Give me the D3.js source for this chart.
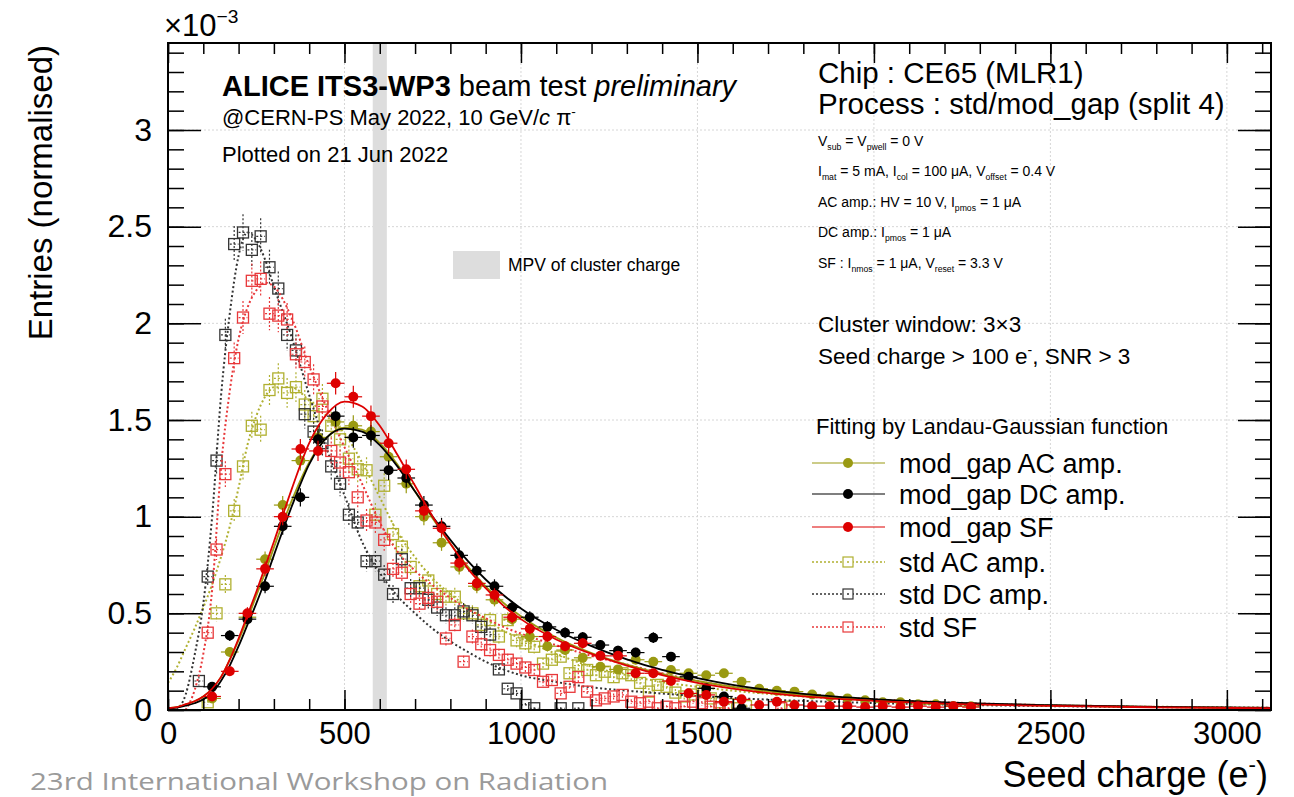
<!DOCTYPE html>
<html>
<head>
<meta charset="utf-8">
<script src="https://cdn.jsdelivr.net/npm/d3@7"></script>
<style>
  body { margin: 0; background: #fff; }
  svg { font-family: 'Liberation Sans', Arial, sans-serif; }
  text { white-space: pre; }
</style>
</head>
<body>
<svg id="chart" width="1294" height="797"></svg>
<script>
// mod_gap: 50 e- bins
const modX = [125, 175, 225, 275, 325, 375, 425, 475, 525, 575, 625, 675, 725, 775, 825, 875, 925, 975, 1025, 1075,
  1125, 1175, 1225, 1275, 1325, 1375, 1425, 1475, 1525, 1575, 1625, 1675, 1725, 1775, 1825, 1875, 1925, 1975, 2025, 2075,
  2125, 2175, 2225, 2275];
const modAC = [0.06, 0.30, 0.48, 0.78, 1.06, 1.29, 1.41, 1.49, 1.47, 1.44, 1.31, 1.17, 1.00, 0.865, 0.74, 0.64, 0.57, 0.47, 0.38, 0.33,
  0.31, 0.27, 0.224, 0.21, 0.26, 0.25, 0.207, 0.19, 0.18, 0.19, 0.146, 0.11, 0.10, 0.095, 0.08, 0.07, 0.06, 0.05, 0.04, 0.04,
  0.03, 0.03, 0.02, 0.02];
const modDC = [0.12, 0.385, 0.47, 0.64, 0.95, 1.10, 1.40, 1.52, 1.41, 1.42, 1.24, 1.20, 1.06, 0.95, 0.80, 0.72, 0.64, 0.53, 0.48, 0.43,
  0.40, 0.376, 0.336, 0.307, 0.297, 0.374, 0.276, 0.172, 0.112, 0.07, 0.009, null, null, null, null, null, null, null, null, null,
  null, null, null, null];
const modSF = [0.07, 0.20, 0.50, 0.73, 1.00, 1.35, 1.34, 1.69, 1.62, 1.52, 1.38, 1.245, 1.03, 0.94, 0.76, 0.655, 0.595, 0.48, 0.42, 0.38,
  0.33, 0.345, 0.28, 0.28, 0.19, 0.19, 0.15, 0.086, 0.078, 0.043, 0.055, 0.026, 0.043, 0.026, 0.02, 0.02, 0.02, 0.015, 0.02, 0.015,
  0.02, 0.015, 0.02, 0.015];

// std: 25 e- bins
const stdX = [87.5, 112.5, 137.5, 162.5, 187.5, 212.5, 237.5, 262.5, 287.5, 312.5, 337.5, 362.5, 387.5, 412.5, 437.5, 462.5, 487.5,
  512.5, 537.5, 562.5, 587.5, 612.5, 637.5, 662.5, 687.5, 712.5, 737.5, 762.5, 787.5, 812.5, 837.5, 862.5, 887.5, 912.5, 937.5,
  962.5, 987.5, 1012.5, 1037.5, 1062.5, 1087.5, 1112.5, 1137.5, 1162.5, 1187.5, 1212.5, 1237.5, 1262.5, 1287.5, 1312.5, 1337.5,
  1362.5, 1387.5, 1412.5, 1437.5, 1462.5, 1487.5, 1512.5, 1537.5, 1562.5, 1587.5, 1612.5, 1637.5, 1662.5, 1687.5, 1712.5, 1737.5, 1762.5];
const stdAC = [null, 0.04, 0.50, 0.65, 1.03, 1.26, 1.47, 1.45, 1.655, 1.715, 1.64, 1.67, 1.58, 1.52, 1.61, 1.47, 1.40, 1.30, 1.245, 1.24,
  1.01, 1.16, 0.91, 0.845, 0.74, 0.64, 0.67, 0.60, 0.586, 0.586, 0.50, 0.50, 0.44, 0.465, 0.38, 0.465, 0.36, 0.345, 0.327, 0.24,
  0.26, 0.276, 0.19, 0.23, 0.207, 0.18, 0.198, 0.17, 0.19, 0.18, 0.14, 0.095, 0.13, 0.12, 0.09, 0.07, 0.08, 0.10, 0.06, 0.04,
  0.03, 0.009, 0.02, null, null, null, null, 0.017];
const stdDC = [0.15, 0.69, 1.29, 1.94, 2.41, 2.47, 2.38, 2.45, 2.29, 2.18, 1.94, 1.86, 1.53, 1.44, 1.38, 1.26, 1.17, 1.01, 0.97, 0.77,
  0.77, 0.70, 0.60, 0.78, 0.63, 0.63, 0.57, 0.53, 0.49, 0.49, 0.51, 0.49, 0.43, 0.39, 0.21, 0.11, 0.086, 0.026, 0.009, null,
  null, 0.009, null, 0.009, null, null, null, null, null, null, null, null, null, null, null, null, null, null, null, null,
  null, null, null, null, null, null, null, null];
const stdSF = [null, 0.40, 0.83, 1.22, 1.82, 2.03, 2.22, 2.23, 2.05, 2.04, 2.02, 1.84, 1.80, 1.71, 1.57, 1.34, 1.28, 1.23, 1.10, 0.98,
  0.97, 0.88, 0.73, 0.71, 0.60, 0.55, 0.58, 0.56, 0.37, 0.44, 0.25, 0.38, 0.34, 0.31, 0.285, 0.26, 0.24, 0.22, 0.207, 0.146,
  0.155, 0.086, 0.12, 0.17, 0.095, 0.05, 0.06, 0.07, 0.078, 0.043, 0.035, 0.043, 0.009, 0.017, 0.009, 0.017, 0.043, 0.035, 0.017, 0.009,
  0.009, null, null, null, null, null, 0.009, null];

// Landau-Gaussian fit curves
const fitX = [0, 25, 50, 75, 100, 125, 150, 175, 200, 225, 250, 275, 300, 350, 400, 450, 500, 550, 600, 650,
  700, 750, 800, 850, 900, 950, 1000, 1100, 1200, 1300, 1400, 1500, 1600, 1800, 2000, 2200, 2500, 2800, 3125];
const fitModAC = [0.01, 0.015, 0.028, 0.045, 0.07, 0.11, 0.17, 0.26, 0.36, 0.47, 0.59, 0.71, 0.84, 1.08, 1.28, 1.41, 1.46, 1.45, 1.38, 1.27,
  1.13, 0.99, 0.86, 0.74, 0.64, 0.555, 0.485, 0.375, 0.295, 0.235, 0.187, 0.15, 0.12, 0.078, 0.052, 0.036, 0.023, 0.015, 0.01];
const fitModDC = [0.008, 0.012, 0.022, 0.035, 0.055, 0.09, 0.15, 0.23, 0.33, 0.44, 0.55, 0.67, 0.80, 1.05, 1.27, 1.41, 1.455, 1.44, 1.37, 1.26,
  1.13, 1.0, 0.88, 0.77, 0.675, 0.595, 0.525, 0.415, 0.33, 0.262, 0.207, 0.165, 0.13, 0.083, 0.056, 0.039, 0.025, 0.016, 0.011];
const fitModSF = [0.01, 0.015, 0.03, 0.045, 0.07, 0.11, 0.17, 0.26, 0.37, 0.49, 0.61, 0.74, 0.87, 1.14, 1.38, 1.53, 1.595, 1.57, 1.47, 1.32,
  1.16, 1.0, 0.86, 0.73, 0.63, 0.54, 0.47, 0.365, 0.29, 0.23, 0.18, 0.14, 0.11, 0.07, 0.047, 0.033, 0.021, 0.014, 0.009];
const fitStdAC = [0.14, 0.22, 0.32, 0.42, 0.53, 0.65, 0.79, 0.95, 1.15, 1.37, 1.52, 1.62, 1.67, 1.67, 1.60, 1.52, 1.43, 1.28, 1.10, 0.92,
  0.79, 0.68, 0.60, 0.53, 0.47, 0.41, 0.37, 0.29, 0.225, 0.18, 0.145, 0.12, 0.10, 0.07, 0.05, 0.037, 0.025, 0.017, 0.012];
const fitStdDC = [null, 0.0, 0.08, 0.28, 0.55, 1.0, 1.62, 2.05, 2.35, 2.47, 2.43, 2.33, 2.19, 1.93, 1.63, 1.35, 1.11, 0.87, 0.71, 0.59,
  0.50, 0.42, 0.355, 0.30, 0.25, 0.21, 0.18, 0.145, 0.117, 0.10, 0.085, 0.072, 0.062, 0.047, 0.036, 0.028, 0.02, 0.015, 0.011];
const fitStdSF = [null, null, 0.0, 0.1, 0.29, 0.62, 1.25, 1.65, 1.92, 2.08, 2.17, 2.21, 2.19, 2.03, 1.78, 1.56, 1.36, 1.17, 0.97, 0.82,
  0.72, 0.645, 0.58, 0.52, 0.475, 0.43, 0.395, 0.335, 0.28, 0.235, 0.19, 0.15, 0.12, 0.08, 0.055, 0.04, 0.025, 0.016, 0.011];

const mpvBand = [580, 620];
const xTicks = [0, 500, 1000, 1500, 2000, 2500, 3000];
const yTicks = [0, 0.5, 1, 1.5, 2, 2.5, 3];

const svg = d3.select('#chart'),
  margin = {top: 43, right: 23, bottom: 87, left: 168},
  width = 1294 - margin.left - margin.right,
  height = 797 - margin.top - margin.bottom;

const x = d3.scaleLinear().domain([0, 3125]).range([0, width]);
const y = d3.scaleLinear().domain([0, 3.45]).range([height, 0]);

const g = svg.append('g')
  .attr('transform', 'translate(' + margin.left + ',' + margin.top + ')');

svg.append('defs').append('clipPath').attr('id', 'clip')
  .append('rect').attr('width', width).attr('height', height);

// text with sub/superscripts, bold and italic pieces
function rich(sel, px, py, parts, size) {
  const t = sel.append('text').attr('x', px).attr('y', py).attr('font-size', size);
  let shift = 0;
  parts.forEach(function(p) {
    const s = p[0], k = p[1] || '';
    const target = k === 'sub' ? size * 0.28 : k === 'sup' ? -size * 0.42 : 0;
    const sp = t.append('tspan').attr('dy', target - shift).text(s);
    shift = target;
    if (k === 'sub' || k === 'sup') sp.attr('font-size', size * 0.62);
    if (k === 'b') sp.attr('font-weight', 'bold');
    if (k === 'i') sp.attr('font-style', 'italic');
  });
  return t;
}

// grid
g.append('g').selectAll('line').data(xTicks.slice(1)).enter().append('line')
  .attr('x1', d => x(d)).attr('x2', d => x(d)).attr('y1', 0).attr('y2', height)
  .attr('stroke', '#d6d6d6').attr('stroke-dasharray', '2,2');
g.append('g').selectAll('line').data(yTicks.slice(1)).enter().append('line')
  .attr('y1', d => y(d)).attr('y2', d => y(d)).attr('x1', 0).attr('x2', width)
  .attr('stroke', '#d6d6d6').attr('stroke-dasharray', '2,2');

// MPV band
g.append('rect')
  .attr('x', x(mpvBand[0])).attr('width', x(mpvBand[1]) - x(mpvBand[0]))
  .attr('y', 0).attr('height', height)
  .attr('fill', '#dddddd');

const plot = g.append('g').attr('clip-path', 'url(#clip)');

const series = [
  {xs: stdX, ys: stdAC, fx: fitX, fy: fitStdAC, color: '#b0b030', std: true, label: 'std AC amp.'},
  {xs: stdX, ys: stdDC, fx: fitX, fy: fitStdDC, color: '#333333', std: true, label: 'std DC amp.'},
  {xs: stdX, ys: stdSF, fx: fitX, fy: fitStdSF, color: '#e8383a', std: true, label: 'std SF'},
  {xs: modX, ys: modAC, fx: fitX, fy: fitModAC, color: '#9a9a12', std: false, label: 'mod_gap AC amp.'},
  {xs: modX, ys: modDC, fx: fitX, fy: fitModDC, color: '#000000', std: false, label: 'mod_gap DC amp.'},
  {xs: modX, ys: modSF, fx: fitX, fy: fitModSF, color: '#dd0000', std: false, label: 'mod_gap SF'}
];

const fitLine = d3.line()
  .defined(d => d[1] !== null)
  .x(d => x(d[0]))
  .y(d => y(d[1]))
  .curve(d3.curveMonotoneX);

series.forEach(function(s) {
  const pts = s.xs.map((v, i) => [v, s.ys[i]]).filter(d => d[1] !== null);
  const half = s.std ? 12.5 : 25;
  const ek = s.std ? 0.06 : 0.045;
  const sg = plot.append('g');

  // error bars
  sg.selectAll('.ev').data(pts).enter().append('line')
    .attr('x1', d => x(d[0])).attr('x2', d => x(d[0]))
    .attr('y1', d => y(d[1] + ek * Math.sqrt(d[1]))).attr('y2', d => y(Math.max(0, d[1] - ek * Math.sqrt(d[1]))))
    .attr('stroke', s.color).attr('stroke-width', 1.2)
    .attr('stroke-dasharray', s.std ? '2,2' : null);
  sg.selectAll('.eh').data(pts).enter().append('line')
    .attr('x1', d => x(d[0] - half)).attr('x2', d => x(d[0] + half))
    .attr('y1', d => y(d[1])).attr('y2', d => y(d[1]))
    .attr('stroke', s.color).attr('stroke-width', 1.2)
    .attr('stroke-dasharray', s.std ? '2,2' : null);

  // markers
  if (s.std) {
    sg.selectAll('.m').data(pts).enter().append('rect')
      .attr('x', d => x(d[0]) - 5.5).attr('y', d => y(d[1]) - 5.5)
      .attr('width', 11).attr('height', 11)
      .attr('fill', 'none').attr('stroke', s.color).attr('stroke-width', 1.3);
  } else {
    sg.selectAll('.m').data(pts).enter().append('circle')
      .attr('cx', d => x(d[0])).attr('cy', d => y(d[1])).attr('r', 5)
      .attr('fill', s.color);
  }

  // fit
  sg.append('path')
    .datum(s.fx.map((v, i) => [v, s.fy[i]]))
    .attr('fill', 'none')
    .attr('stroke', s.color)
    .attr('stroke-width', s.std ? 2 : 1.8)
    .attr('stroke-dasharray', s.std ? '2,2.5' : null)
    .attr('d', fitLine);
});

// axes, ROOT style: ticks inside on all four sides
function styleAxis(sel) {
  sel.select('.domain').remove();
  sel.selectAll('line').attr('stroke', '#000').attr('stroke-width', 1.5);
}
g.append('g').attr('transform', 'translate(0,' + height + ')')
  .call(d3.axisBottom(x).tickValues(d3.range(0, 3125, 100)).tickSize(-11).tickFormat(''))
  .call(styleAxis);
g.append('g').attr('transform', 'translate(0,' + height + ')')
  .call(d3.axisBottom(x).tickValues(xTicks).tickSize(-20).tickPadding(12).tickFormat(d => d))
  .call(styleAxis)
  .selectAll('text').attr('font-size', 31).attr('fill', '#000').attr('font-family', 'Liberation Sans, Arial, sans-serif');
g.append('g')
  .call(d3.axisTop(x).tickValues(d3.range(0, 3125, 100)).tickSize(-11).tickFormat(''))
  .call(styleAxis);
g.append('g')
  .call(d3.axisTop(x).tickValues(xTicks).tickSize(-20).tickFormat(''))
  .call(styleAxis);
g.append('g')
  .call(d3.axisLeft(y).tickValues(d3.range(0, 3.45, 0.1)).tickSize(-16).tickFormat(''))
  .call(styleAxis);
g.append('g')
  .call(d3.axisLeft(y).tickValues(yTicks).tickSize(-33).tickPadding(16).tickFormat(d => d))
  .call(styleAxis)
  .selectAll('text').attr('font-size', 32).attr('fill', '#000').attr('font-family', 'Liberation Sans, Arial, sans-serif');
g.append('g').attr('transform', 'translate(' + width + ',0)')
  .call(d3.axisRight(y).tickValues(d3.range(0, 3.45, 0.1)).tickSize(-16).tickFormat(''))
  .call(styleAxis);
g.append('g').attr('transform', 'translate(' + width + ',0)')
  .call(d3.axisRight(y).tickValues(yTicks).tickSize(-33).tickFormat(''))
  .call(styleAxis);

g.append('rect')
  .attr('width', width).attr('height', height)
  .attr('fill', 'none').attr('stroke', '#000').attr('stroke-width', 2);

// axis titles
rich(svg, 164, 36, [['\u00d710'], ['\u22123', 'sup']], 31);
rich(svg, 1268, 787, [['Seed charge (e'], ['-', 'sup'], [')']], 36).attr('text-anchor', 'end');
svg.append('text')
  .attr('transform', 'translate(52,45) rotate(-90)')
  .attr('text-anchor', 'end')
  .attr('font-size', 33)
  .text('Entries (normalised)');

// header texts
rich(svg, 222, 96, [['ALICE ITS3-WP3', 'b'], [' beam test '], ['preliminary', 'i']], 29);
rich(svg, 222, 125, [['@CERN-PS May 2022, 10 GeV/'], ['c', 'i'], [' \u03c0'], ['-', 'sup']], 22);
rich(svg, 222, 162, [['Plotted on 21 Jun 2022']], 22);

rich(svg, 818, 83, [['Chip : CE65 (MLR1)']], 29.5);
rich(svg, 818, 114, [['Process : std/mod_gap (split 4)']], 29.5);
rich(svg, 818, 146, [['V'], ['sub', 'sub'], [' = V'], ['pwell', 'sub'], [' = 0 V']], 14);
rich(svg, 818, 176, [['I'], ['mat', 'sub'], [' = 5 mA, I'], ['col', 'sub'], [' = 100 \u03bcA, V'], ['offset', 'sub'], [' = 0.4 V']], 14);
rich(svg, 818, 207, [['AC amp.: HV = 10 V, I'], ['pmos', 'sub'], [' = 1 \u03bcA']], 14);
rich(svg, 818, 237, [['DC amp.: I'], ['pmos', 'sub'], [' = 1 \u03bcA']], 14);
rich(svg, 818, 268, [['SF : I'], ['nmos', 'sub'], [' = 1 \u03bcA, V'], ['reset', 'sub'], [' = 3.3 V']], 14);
rich(svg, 818, 332, [['Cluster window: 3\u00d73']], 22.5);
rich(svg, 818, 364, [['Seed charge > 100 e'], ['-', 'sup'], [', SNR > 3']], 22.5);
rich(svg, 816, 434, [['Fitting by Landau-Gaussian function']], 22);

// MPV legend
svg.append('rect').attr('x', 453).attr('y', 251).attr('width', 47).attr('height', 28).attr('fill', '#dddddd');
rich(svg, 508, 271, [['MPV of cluster charge']], 17.5);

// legend
const legendOrder = [3, 4, 5, 0, 1, 2];
const legendY = [463, 494, 527, 562, 594, 627];
legendOrder.forEach(function(si, i) {
  const s = series[si], ly = legendY[i];
  const lg = svg.append('g');
  lg.append('line').attr('x1', 812).attr('x2', 885).attr('y1', ly).attr('y2', ly)
    .attr('stroke', s.color).attr('stroke-width', s.std ? 1.3 : 1.2)
    .attr('stroke-dasharray', s.std ? '2,2' : null);
  if (s.std) {
    lg.append('rect').attr('x', 843).attr('y', ly - 5).attr('width', 10).attr('height', 10)
      .attr('fill', '#fff').attr('stroke', s.color).attr('stroke-width', 1.2);
    lg.append('circle').attr('cx', 848).attr('cy', ly).attr('r', 1).attr('fill', s.color);
  } else {
    lg.append('circle').attr('cx', 848).attr('cy', ly).attr('r', 5).attr('fill', s.color);
  }
  rich(lg, 899, ly + 10, [[s.label]], 27);
});

// slide footer
svg.append('text')
  .attr('x', 30).attr('y', 790)
  .attr('font-family', 'Open Sans, sans-serif')
  .attr('font-size', 24)
  .attr('textLength', 578)
  .attr('lengthAdjust', 'spacingAndGlyphs')
  .attr('fill', '#9a9a9a')
  .text('23rd International Workshop on Radiation');
</script>
</body>
</html>
